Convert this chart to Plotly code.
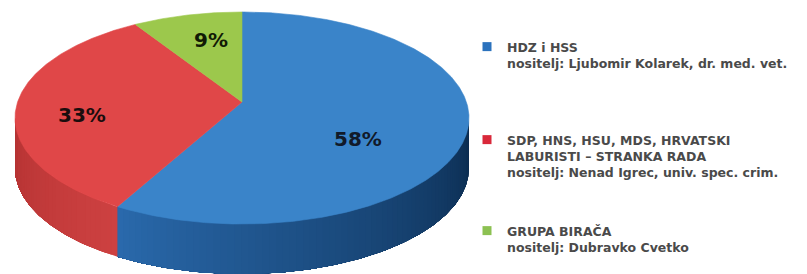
import numpy as np
import plotly.graph_objects as go

# ---- data ----
party_lines = [
    ["HDZ i HSS"],
    ["SDP, HNS, HSU, MDS, HRVATSKI", "LABURISTI – STRANKA RADA"],
    ["GRUPA BIRAČA"],
]
nositelji = [
    "Ljubomir Kolarek, dr. med. vet.",
    "Nenad Igrec, univ. spec. crim.",
    "Dubravko Cvetko",
]
shares = [58, 33, 9]

# ---- style ----
W, H = 807, 274
top_colors = ["#3a84c9", "#e04748", "#9cc84c"]
side_from = ["#2a6aad", "#cd4141", "#8ab340"]   # colour at slice start angle
side_to = ["#0b2b4e", "#b43232", "#7aa035"]     # colour toward end angle
swatch_colors = ["#2b72bd", "#d9283a", "#8cc152"]
label_xy = [(358, 139), (82, 115), (211, 40)]
label_colors = ["#111a2a", "#1a0d0d", "#111a05"]

# projection of the 3D pie (pixel space)
X0, Y0 = 242.0, 102.0
A, B = 224.4, 103.6
P = 0.151
DEPTH = 50.0


def proj(theta_deg, depth=0.0, r=1.0):
    t = np.radians(theta_deg)
    u = r * np.sin(t)
    v = -r * np.cos(t)
    s = 1.0 / (1.0 - P * v)
    return X0 + A * u * s, Y0 + B * v * s + depth


def hex2rgb(h):
    h = h.lstrip("#")
    return np.array([int(h[i:i + 2], 16) for i in (0, 2, 4)], float)


def mix(c1, c2, f):
    c = hex2rgb(c1) * (1 - f) + hex2rgb(c2) * f
    return "rgb(%d,%d,%d)" % tuple(np.round(c).astype(int))


fig = go.Figure()

total = float(sum(shares))
bounds = np.concatenate([[0.0], np.cumsum(shares) / total * 360.0])
vis_lo = np.degrees(np.arccos(-P))
vis_hi = 360.0 - vis_lo

# side walls (drawn first); strips painted over each other to avoid seams
for i in range(len(shares)):
    a0, a1 = bounds[i], bounds[i + 1]
    lo, hi = max(a0, vis_lo), min(a1, vis_hi)
    if hi <= lo:
        continue
    n = max(2, int((hi - lo) / 1.5))
    edges = np.linspace(lo, hi, n + 1)
    for k in range(n):
        e0 = edges[k]
        th = np.linspace(e0, hi, max(3, int((hi - e0) * 2)))
        xt, yt = proj(th)
        xb, yb = proj(th[::-1], DEPTH)
        xs = np.concatenate([xt, xb, xt[:1]])
        ys = np.concatenate([yt, yb, yt[:1]])
        mid = e0 + (hi - lo) / n / 2
        if i == 0:
            f = ((a1 - mid) / (a1 - lo)) ** 0.9
        else:
            f = (mid - lo) / (hi - lo)
        col = mix(side_from[i], side_to[i], f)
        fig.add_trace(go.Scatter(
            x=xs, y=ys, mode="lines", fill="toself", fillcolor=col,
            line=dict(width=0), hoverinfo="skip", showlegend=False))

# top surfaces
for i in range(len(shares)):
    a0, a1 = bounds[i], bounds[i + 1]
    th = np.linspace(a0, a1, max(3, int((a1 - a0) * 2)))
    xa, ya = proj(th)
    xs = np.concatenate([[X0], xa, [X0]])
    ys = np.concatenate([[Y0], ya, [Y0]])
    fig.add_trace(go.Scatter(
        x=xs, y=ys, mode="lines", fill="toself", fillcolor=top_colors[i],
        line=dict(color=top_colors[i], width=0.6), hoverinfo="skip",
        showlegend=False))

# percentage labels
for i, v in enumerate(shares):
    lx, ly = label_xy[i]
    fig.add_annotation(x=lx, y=ly, text=f"{v}%", showarrow=False,
                       font=dict(family="DejaVu Sans", size=20, color=label_colors[i],
                                 weight="bold"))

# legend entries (one legend per entry for exact placement)
legend_x = 467
legend_tops = [32, 125, 216]
legend_names = ["legend", "legend2", "legend3"]
for i in range(len(shares)):
    name = "<br>".join(party_lines[i] + ["nositelj: " + nositelji[i]])
    fig.add_trace(go.Scatter(
        x=[None], y=[None], mode="markers", name=name,
        marker=dict(symbol="square", size=9, color=swatch_colors[i]),
        legend=legend_names[i], showlegend=True))

legend_common = dict(
    xanchor="left", yanchor="top", valign="top",
    bgcolor="rgba(0,0,0,0)", borderwidth=0,
    font=dict(family="DejaVu Sans", size=12.5, color="#4a4a4a", weight="bold"),
    itemclick=False, itemdoubleclick=False,
)
layout_legends = {}
for i, ln in enumerate(legend_names):
    layout_legends[ln] = dict(x=legend_x / W, y=1 - legend_tops[i] / H, **legend_common)

fig.update_layout(
    width=W, height=H,
    margin=dict(l=0, r=0, t=0, b=0),
    paper_bgcolor="white", plot_bgcolor="white",
    xaxis=dict(range=[0, W], visible=False, fixedrange=True),
    yaxis=dict(range=[H, 0], visible=False, fixedrange=True),
    showlegend=True,
    **layout_legends,
)

fig.write_html(
    "out.html",
    config={"displayModeBar": False},
    post_script="document.body.style.margin='0';document.body.style.overflow='hidden';",
)
